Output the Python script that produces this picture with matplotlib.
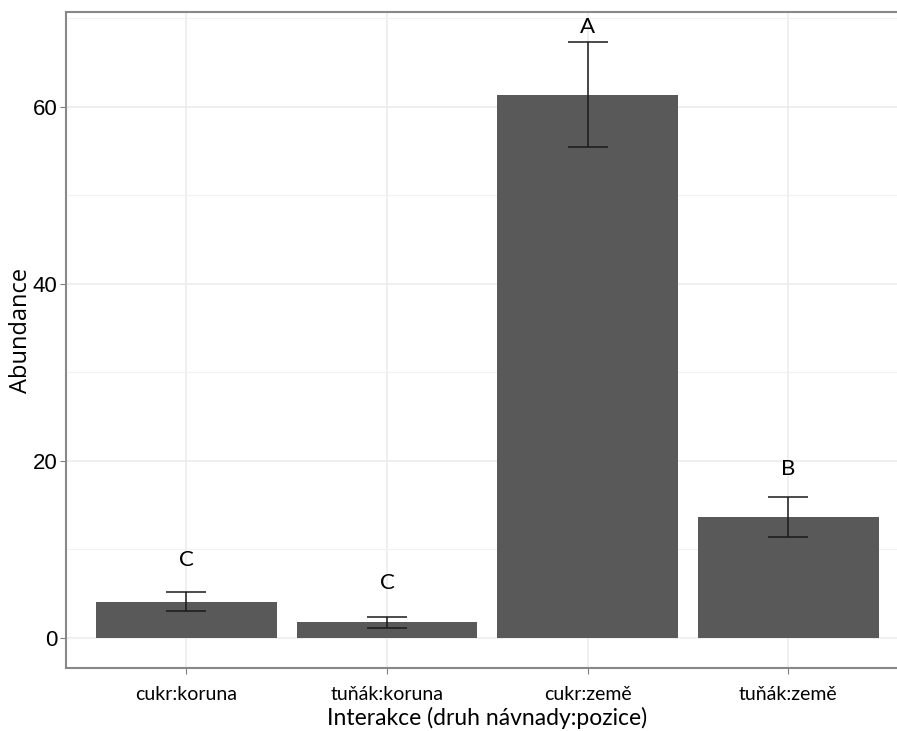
import matplotlib
matplotlib.use("Agg")
import matplotlib.pyplot as plt
from matplotlib.ticker import MultipleLocator

categories = ["cukr:koruna", "tuňák:koruna", "cukr:země", "tuňák:země"]
means = [4.1, 1.85, 61.35, 13.65]
err_low = [3.08, 1.16, 55.5, 11.4]
err_high = [5.16, 2.34, 67.3, 15.9]
letters = ["C", "C", "A", "B"]
letter_y = [8.8, 6.2, 69.0, 19.1]

fig = plt.figure(figsize=(8.97, 7.31), dpi=100)
ax = fig.add_axes([0.0736, 0.0862, 0.9394, 0.8974])

x = list(range(len(categories)))
ax.bar(x, means, width=0.9, color="#595959", zorder=2)
yerr = [[m - lo for m, lo in zip(means, err_low)],
        [hi - m for m, hi in zip(means, err_high)]]
ax.errorbar(x, means, yerr=yerr, fmt="none", ecolor="#1a1a1a",
            elinewidth=1.1, capsize=14.4, capthick=1.1, zorder=3)

for xi, lab, ly in zip(x, letters, letter_y):
    ax.text(xi, ly, lab, ha="center", va="center", fontsize=16,
            family=["Lato", "DejaVu Sans"], color="black")

ax.set_xlim(-0.6, 3.6)
ax.set_ylim(-3.39, 70.7)
ax.set_xticks(x)
ax.set_xticklabels(categories, fontsize=14, family=["Lato", "DejaVu Sans"])
ax.yaxis.set_major_locator(MultipleLocator(20))
ax.yaxis.set_minor_locator(MultipleLocator(10))
ax.tick_params(axis="y", labelsize=16, length=4, color="#7f7f7f", pad=2)
ax.tick_params(axis="x", length=4, color="#7f7f7f", pad=9)
ax.tick_params(axis="y", which="minor", length=0)
for lab in ax.get_yticklabels():
    lab.set_family(["Liberation Sans", "DejaVu Sans"])

ax.grid(True, which="major", color="#ebebeb", linewidth=1.1, zorder=0)
ax.grid(True, which="minor", axis="y", color="#f2f2f2", linewidth=0.8, zorder=0)
ax.set_axisbelow(True)

for side in ["left", "bottom", "top"]:
    ax.spines[side].set_color("#888888")
    ax.spines[side].set_linewidth(1.5)
ax.spines["right"].set_visible(False)

ax.set_ylabel("Abundance", fontsize=17, family=["Open Sans", "DejaVu Sans"])
ax.yaxis.set_label_coords(-0.039, 0.515)
ax.set_xlabel("Interakce (druh návnady:pozice)", fontsize=16.5,
              family=["Lato", "DejaVu Sans"], labelpad=3)

fig.savefig("out.png", dpi=100)
